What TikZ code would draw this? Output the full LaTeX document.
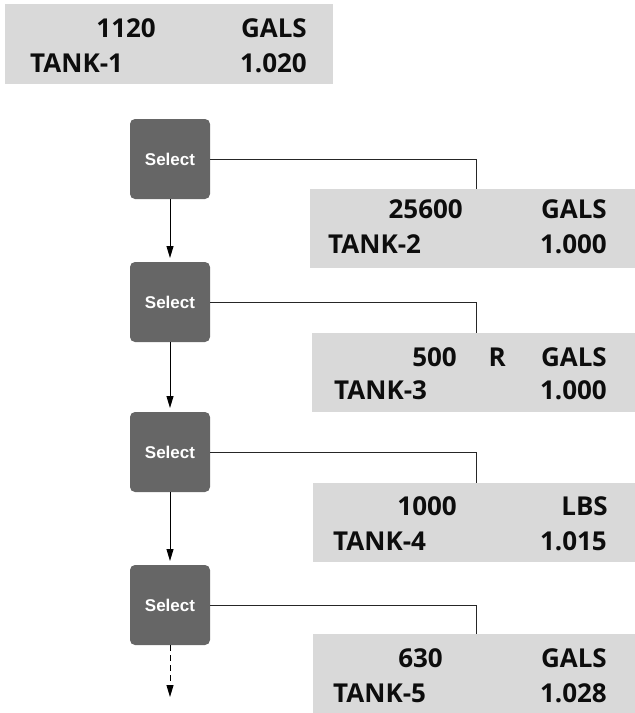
\documentclass[tikz,border=0pt]{standalone}
\usepackage{fontspec}
\newfontfamily\tankfont{Open Sans}
\newfontfamily\selfont{Liberation Sans}
\usetikzlibrary{arrows.meta}
\definecolor{tankgray}{HTML}{D9D9D9}
\definecolor{selgray}{HTML}{666666}
\tikzset{
  tankbox/.style={rectangle, fill=tankgray, draw=none, inner sep=0pt, outer sep=0pt, anchor=north west},
  selbox/.style={rectangle, rounded corners=5pt, fill=selgray, draw=none, minimum width=80pt, minimum height=80pt, inner sep=0pt, outer sep=0pt, anchor=north west, text=white, font=\selfont\bfseries\fontsize{17}{19}\selectfont},
  ttxt/.style={inner sep=0pt, font=\tankfont\bfseries\fontsize{26}{30}\selectfont, text=black!95},
  tl/.style={ttxt, anchor=base west},
  tr/.style={ttxt, anchor=base east},
  conn/.style={draw=black!85, line width=0.9pt},
  flow/.style={draw=black, line width=0.9pt, -{Triangle[length=12pt,width=7pt]}, shorten >=4pt},
}
\begin{document}
\begin{tikzpicture}[x=1pt,y=1pt]
\useasboundingbox (0,0) rectangle (635,-713);
% tank boxes
\node[tankbox, minimum width=328pt, minimum height=80pt] (t1) at (5,-4) {};
\node[tankbox, minimum width=325pt, minimum height=79pt] (t2) at (310,-189) {};
\node[tankbox, minimum width=323pt, minimum height=79pt] (t3) at (312,-333) {};
\node[tankbox, minimum width=322pt, minimum height=79pt] (t4) at (313,-483) {};
\node[tankbox, minimum width=322pt, minimum height=79pt] (t5) at (313,-634) {};
% tank texts
\node[tr] (t1a) at (156,-37) {1120};
\node[tr] (t1b) at (307,-37) {GALS};
\node[tl] (t1c) at (30,-72) {TANK-1};
\node[tr] (t1d) at (307,-72) {1.020};
\node[tr] (t2a) at (463,-218) {25600};
\node[tr] (t2b) at (607,-218) {GALS};
\node[tl] (t2c) at (328,-253) {TANK-2};
\node[tr] (t2d) at (607,-253) {1.000};
\node[tr] (t3a) at (457,-366) {500};
\node[tr] (t3r) at (506,-366) {R};
\node[tr] (t3b) at (607,-366) {GALS};
\node[tl] (t3c) at (334,-399) {TANK-3};
\node[tr] (t3d) at (607,-399) {1.000};
\node[tr] (t4a) at (457,-515) {1000};
\node[tr] (t4b) at (608,-515) {LBS};
\node[tl] (t4c) at (333,-550) {TANK-4};
\node[tr] (t4d) at (607,-550) {1.015};
\node[tr] (t5a) at (443,-667) {630};
\node[tr] (t5b) at (607,-667) {GALS};
\node[tl] (t5c) at (333,-702) {TANK-5};
\node[tr] (t5d) at (607,-702) {1.028};
% select boxes
\node[selbox] (s1) at (130,-119) {Select};
\node[selbox] (s2) at (130,-262) {Select};
\node[selbox] (s3) at (130,-412) {Select};
\node[selbox] (s4) at (130,-565) {Select};
\coordinate (vx) at (476,0);
\coordinate (end) at (170,-701);
% connectors
\draw[conn] (s1.east) -| (t2.north -| vx);
\draw[conn] (s2.east) -| (t3.north -| vx);
\draw[conn] (s3.east) -| (t4.north -| vx);
\draw[conn] (s4.east) -| (t5.north -| vx);
\draw[flow] (s1.south) -- (s2.north);
\draw[flow] (s2.south) -- (s3.north);
\draw[flow] (s3.south) -- (s4.north);
\draw[flow, dash pattern=on 6pt off 4pt] (s4.south) -- (end);
\end{tikzpicture}
\end{document}
